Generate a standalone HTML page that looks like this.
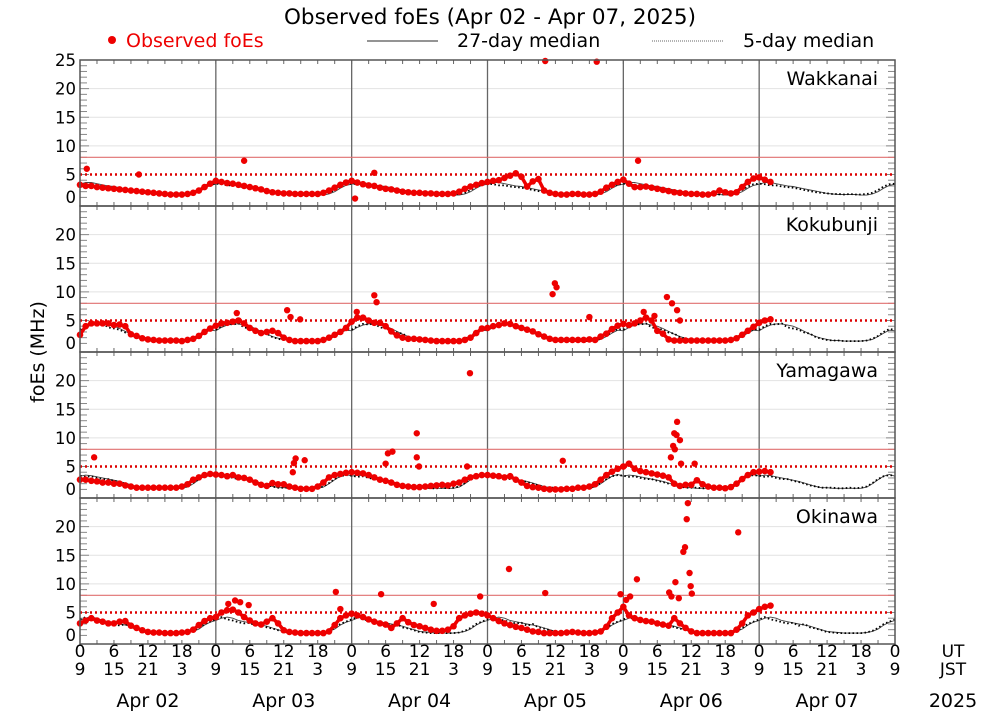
<!DOCTYPE html>
<html><head><meta charset="utf-8"><style>
body{margin:0;background:#fff;}
svg{display:block;font-family:"DejaVu Sans","Liberation Sans",sans-serif;}
</style></head><body>
<svg id="chart" width="1000" height="714" viewBox="0 0 1000 714">
<text x="490" y="24" font-size="21.5" text-anchor="middle">Observed foEs (Apr 02 - Apr 07, 2025)</text>
<g>
<circle cx="112" cy="40" r="4" fill="#e00"/>
<text x="126" y="47" font-size="19" fill="#e00">Observed foEs</text>
<line x1="367" y1="41" x2="438" y2="41" stroke="#555" stroke-width="1.2"/>
<text x="457" y="47" font-size="19">27-day median</text>
<line x1="652" y1="41" x2="723" y2="41" stroke="#666" stroke-width="1" stroke-dasharray="1 1"/>
<text x="743" y="47" font-size="19">5-day median</text>
</g>
<text transform="translate(44,352) rotate(-90)" font-size="19" text-anchor="middle">foEs (MHz)</text>
<g id="panels"></g>
<g id="xaxis"></g>
</svg>
<script>
const stations = ["Wakkanai","Kokubunji","Yamagawa","Okinawa"];
const dayLabels = ["Apr 02","Apr 03","Apr 04","Apr 05","Apr 06","Apr 07"];
const utTicks = ["0","6","12","18"];
const jstTicks = ["9","15","21","3"];
const yTicksFirst = [25,20,15,10,5,0];
const yTicksOther = [20,15,10,5,0];

// Hourly observed foEs (UT hour index from Apr 02 00UT)
const obsWakkanai = [3.2,3.0,3.0,2.8,2.7,2.6,2.5,2.4,2.3,2.2,2.1,2.0,1.9,1.8,1.7,1.6,1.5,1.5,1.5,1.6,1.8,2.2,2.8,3.4,
3.9,3.7,3.5,3.4,3.2,3.0,2.8,2.6,2.4,2.1,1.9,1.8,1.7,1.7,1.6,1.6,1.6,1.6,1.6,1.8,2.2,2.7,3.2,3.6,
3.9,3.6,3.3,3.1,3.0,2.7,2.5,2.4,2.2,2.0,1.9,1.8,1.8,1.7,1.7,1.6,1.6,1.6,1.7,2.0,2.5,2.9,3.2,3.5,
3.7,3.9,4.0,4.4,4.8,5.2,4.6,2.9,3.8,4.2,2.2,1.8,1.6,1.5,1.5,1.6,1.6,1.5,1.5,1.6,2.0,2.7,3.2,3.7,
4.1,3.4,2.8,2.8,2.9,2.7,2.5,2.3,2.1,1.9,1.8,1.7,1.6,1.6,1.5,1.5,1.7,2.2,1.9,1.7,1.9,2.8,3.7,4.3,
4.5,4.1,3.7];
const obsKokubunji = [2.5,4.0,4.5,4.5,4.5,4.5,4.2,4.3,4.0,2.6,2.3,1.9,1.7,1.6,1.5,1.5,1.5,1.5,1.4,1.6,1.8,2.3,3.0,3.6,
4.1,4.5,4.6,4.8,5.0,4.5,3.7,3.2,2.8,3.0,3.2,2.8,2.0,1.6,1.4,1.4,1.4,1.4,1.4,1.6,2.0,2.5,3.0,3.7,
4.8,5.5,5.5,5.0,4.6,4.6,4.0,3.1,2.4,2.0,1.8,1.8,1.7,1.6,1.5,1.4,1.4,1.4,1.4,1.4,1.6,2.0,2.8,3.6,
3.7,4.0,4.2,4.5,4.4,4.0,3.7,3.4,3.1,2.6,2.2,1.8,1.6,1.6,1.6,1.6,1.6,1.6,1.7,1.6,2.2,2.7,3.5,4.1,
4.4,4.2,4.5,5.0,5.5,5.0,3.2,2.7,1.7,1.5,1.5,1.5,1.5,1.5,1.5,1.5,1.5,1.5,1.5,1.6,1.9,2.5,3.2,3.9,
4.6,5.0,5.2];
const obsYamagawa = [2.7,2.7,2.5,2.4,2.2,2.2,2.0,2.0,1.7,1.5,1.3,1.3,1.3,1.3,1.3,1.3,1.3,1.3,1.5,1.9,2.7,3.1,3.5,3.7,
3.6,3.5,3.3,3.5,3.1,3.0,2.7,2.2,1.8,1.6,2.1,1.9,1.9,1.5,1.3,1.1,1.1,1.1,1.5,2.2,3.1,3.5,3.7,3.9,
4.0,3.9,3.8,3.5,3.1,2.7,2.5,2.2,1.8,1.6,1.5,1.4,1.4,1.5,1.6,1.7,1.8,1.7,2.0,2.2,2.7,3.1,3.3,3.5,
3.5,3.4,3.3,3.1,3.3,2.7,2.2,1.6,1.4,1.3,1.1,1.0,1.0,1.0,1.1,1.1,1.3,1.3,1.5,1.9,2.7,3.5,4.1,4.6,
5.0,5.5,4.6,4.2,4.0,3.8,3.6,3.4,3.1,2.0,1.6,1.8,1.8,2.6,1.9,1.5,1.3,1.3,1.2,1.4,2.0,2.8,3.5,4.0,
4.1,4.2,4.0];
const obsOkinawa = [3.1,3.6,4.0,3.6,3.4,3.1,3.1,3.4,3.5,2.7,2.3,1.9,1.6,1.5,1.5,1.4,1.4,1.4,1.5,1.6,2.0,2.8,3.5,4.0,
4.2,5.0,5.4,5.5,5.0,4.2,3.6,3.1,2.9,3.4,4.0,3.1,1.9,1.6,1.5,1.4,1.4,1.4,1.4,1.4,1.7,2.8,4.0,4.5,
4.8,4.5,4.2,3.8,3.4,3.1,2.9,2.3,3.1,4.0,3.3,2.8,2.6,2.3,2.0,1.8,1.8,2.0,2.6,4.0,4.5,4.8,5.0,4.8,
4.5,4.0,3.5,3.1,2.8,2.5,2.3,2.0,1.7,1.6,1.4,1.4,1.4,1.4,1.5,1.6,1.5,1.4,1.4,1.5,1.7,2.5,4.0,5.0,
6.0,4.5,4.0,3.7,3.5,3.4,3.1,2.9,2.7,4.0,3.1,2.3,1.7,1.4,1.4,1.4,1.4,1.4,1.4,1.4,2.0,3.1,4.5,5.0,
5.6,6.0,6.2];

// Sporadic high values: [hour, value]
const outWakkanai = [[1.2,6.0],[10.4,5.0],[29,7.4],[48.6,0.8],[52,5.3],[82.2,25],[91.3,24.7],[98.6,7.4]];
const outKokubunji = [[27.7,6.3],[36.6,6.8],[37.2,5.6],[38.9,5.2],[52,9.4],[52.4,8.2],[48.9,6.5],[83.9,11.5],[84.2,10.8],[83.5,9.6],[90,5.6],[103.7,9.1],[104.6,8.0],[105.5,6.8],[99.6,6.5],[101.5,5.8],[106,5.0]];
const outYamagawa = [[2.5,6.6],[38.1,6.4],[39.7,6.1],[37.8,5.6],[37.6,4.0],[54.4,7.3],[55.2,7.6],[54,5.5],[59.5,10.8],[59.5,6.6],[59.9,5.0],[68.9,21.3],[68.4,5.0],[85.3,6.0],[105.5,12.8],[105,10.8],[105.4,10.5],[106,9.6],[104.8,8.6],[105.1,8.0],[104.4,6.6],[106.2,5.5],[108.6,5.5]];
const outOkinawa = [[107.4,24.1],[107.2,21.3],[106.9,16.4],[106.6,15.6],[107.7,11.9],[107.9,9.6],[108.1,8.3],[105.2,10.3],[104.1,8.5],[104.5,7.8],[105.8,7.5],[116.3,19.0],[98.4,10.8],[95.5,8.2],[97.2,7.8],[96.5,7.2],[75.8,12.6],[82.2,8.4],[53.2,8.2],[45.2,8.6],[70.7,7.8],[62.5,6.5],[27.4,7.1],[28.3,6.8],[29.8,6.3],[26.2,6.5],[46,5.6]];

// Median by UT hour-of-day
const med27Wakkanai = [3.3,3.6,3.6,3.4,3.2,3.0,2.9,2.7,2.5,2.3,2.1,1.9,1.7,1.6,1.5,1.5,1.5,1.5,1.4,1.4,1.6,2.0,2.6,3.1];
const med5Wakkanai = [3.4,3.3,3.1,3.1,2.9,2.8,2.7,2.5,2.3,2.1,1.9,1.8,1.7,1.6,1.6,1.5,1.6,1.5,1.5,1.6,1.8,2.3,2.9,3.3];
const med27Kokubunji = [3.2,3.8,4.2,4.4,4.4,4.2,4.0,3.6,3.1,2.6,2.2,1.9,1.7,1.5,1.5,1.4,1.4,1.4,1.4,1.5,1.7,2.2,2.8,3.3];
const med5Kokubunji = [3.4,4.0,4.4,4.3,4.5,3.8,3.6,3.4,2.9,2.7,2.1,1.8,1.6,1.5,1.5,1.4,1.4,1.4,1.4,1.5,1.8,2.3,3.0,3.5];
const med27Yamagawa = [3.3,3.5,3.4,3.2,3.0,2.8,2.6,2.4,2.1,1.8,1.5,1.3,1.3,1.2,1.2,1.2,1.2,1.2,1.2,1.4,2.0,2.7,3.3,3.6];
const med5Yamagawa = [3.4,3.2,3.3,3.0,2.8,2.8,2.5,2.3,2.0,1.7,1.5,1.3,1.3,1.3,1.2,1.2,1.3,1.2,1.3,1.5,2.1,2.8,3.3,3.5];
const med27Okinawa = [3.6,4.0,4.2,4.0,3.6,3.4,3.2,3.0,2.8,2.6,2.3,2.0,1.7,1.6,1.5,1.4,1.4,1.4,1.4,1.5,1.7,2.1,2.8,3.3];
const med5Okinawa = [3.8,4.2,3.8,3.6,3.3,3.1,3.2,2.7,3.0,2.4,2.2,1.9,1.6,1.5,1.4,1.4,1.4,1.4,1.4,1.5,1.8,2.3,3.0,3.4];

const obsAll = [obsWakkanai,obsKokubunji,obsYamagawa,obsOkinawa];
const outAll = [outWakkanai,outKokubunji,outYamagawa,outOkinawa];
const med27All = [med27Wakkanai,med27Kokubunji,med27Yamagawa,med27Okinawa];
const med5All = [med5Wakkanai,med5Kokubunji,med5Yamagawa,med5Okinawa];

const NS="http://www.w3.org/2000/svg";
const X0=80, X1=895, PTOP=60, PH=146, PXU=5.725;
const xs = h => X0 + h*(X1-X0)/144;
function mk(tag, attrs, parent){const e=document.createElementNS(NS,tag);for(const k in attrs)e.setAttribute(k,attrs[k]);parent.appendChild(e);return e;}
const panelsG=document.getElementById('panels');
stations.forEach((name,p)=>{
  const top=PTOP+p*PH, bot=top+PH;
  const ys = v => top + (25 - v)*PXU;
  const g=mk('g',{},panelsG);
  
  
  [10,15,20].forEach(v=>{const l=mk('line',{x1:X0,x2:X1,y1:ys(v),y2:ys(v),stroke:'#e2e2e2','stroke-width':1},g);
    
    });
  for(let v=1;v<25;v++){
    mk('line',{x1:X0,x2:X0+(v%5?7:9),y1:ys(v),y2:ys(v),stroke:'#888','stroke-width':1},g);
    mk('line',{x1:X1,x2:X1-(v%5?7:9),y1:ys(v),y2:ys(v),stroke:'#888','stroke-width':1},g);
  }
  for(let h=3;h<144;h+=3){
    mk('line',{x1:xs(h),x2:xs(h),y1:top,y2:top+4,stroke:'#666','stroke-width':1},g);
    mk('line',{x1:xs(h),x2:xs(h),y1:bot,y2:bot-4,stroke:'#666','stroke-width':1},g);
  }
  for(let d=1;d<6;d++){const l=mk('line',{x1:xs(d*24),x2:xs(d*24),y1:top,y2:bot,stroke:'#666','stroke-width':1.3},g);
    
    }
  const t8=mk('line',{x1:X0,x2:X1,y1:ys(8),y2:ys(8),stroke:'#e07070','stroke-width':1.2},g);
  
  
  const t5=mk('line',{x1:X0,x2:X1,y1:ys(5),y2:ys(5),stroke:'#d00','stroke-width':2.4,'stroke-dasharray':'2 3'},g);
  
  
  let p27='';
  for(let h=0;h<=144;h++){const v=med27All[p][h%24];p27+=(h?'L':'M')+xs(h).toFixed(1)+' '+ys(v).toFixed(1);}
  const m27=mk('path',{d:p27,fill:'none',stroke:'#444','stroke-width':0.9},g);
  
  
  let d5='';
  for(let h=0;h<=144;h++){const v=med5All[p][h%24];d5+=(h?'L':'M')+xs(h).toFixed(1)+' '+ys(v).toFixed(1);}
  const m5=mk('path',{d:d5,fill:'none',stroke:'#000','stroke-width':1.8,'stroke-dasharray':'1.6 2.4'},g);
  
  
  const obs=obsAll[p];
  let po='';obs.forEach((v,h)=>{po+=(h?'L':'M')+xs(h).toFixed(1)+' '+ys(v).toFixed(1);});
  const band=mk('path',{d:po,fill:'none',stroke:'#e00','stroke-width':3.5,'stroke-linejoin':'round','stroke-linecap':'round'},g);
  
  
  obs.forEach((v,h)=>{const c=mk('circle',{cx:xs(h),cy:ys(v),r:3.3,fill:'#e00'},g);
    
    });
  outAll[p].forEach(([h,v])=>{const c=mk('circle',{cx:xs(h),cy:Math.max(ys(v),top+1),r:3.2,fill:'#e00'},g);
    
    });
  const fr=mk('rect',{x:X0,y:top,width:X1-X0,height:PH,fill:'none',stroke:'#555','stroke-width':1.5},g);
  
  
  const yt=(p==0?yTicksFirst:yTicksOther);
  yt.forEach(v=>{const t=mk('text',{x:76,y:(v==0?ys(0)-6:ys(v))+6,'font-size':16.5,'text-anchor':'end'},g);t.textContent=v;
    
    });
  const st=mk('text',{x:878,y:top+25,'font-size':19,'text-anchor':'end'},g);st.textContent=name;
  
  
});
const xg=document.getElementById('xaxis');
for(let d=0;d<=6;d++){for(let k=0;k<4;k++){if(d==6&&k>0)break;const h=d*24+k*6;
  const a=mk('text',{x:xs(h),y:657,'font-size':17,'text-anchor':'middle'},xg);a.textContent=utTicks[k];
  
  
  const b=mk('text',{x:xs(h),y:675,'font-size':17,'text-anchor':'middle'},xg);b.textContent=jstTicks[k];
  
  }}
dayLabels.forEach((s,d)=>{const t=mk('text',{x:xs(d*24+12),y:707,'font-size':19,'text-anchor':'middle'},xg);t.textContent=s;
  
  });
[['UT',657,17],['JST',675,17],['2025',707,19]].forEach(([s,y,f])=>{const t=mk('text',{x:953,y:y,'font-size':f,'text-anchor':'middle'},xg);t.textContent=s;
  
  });
</script>
</body></html>
